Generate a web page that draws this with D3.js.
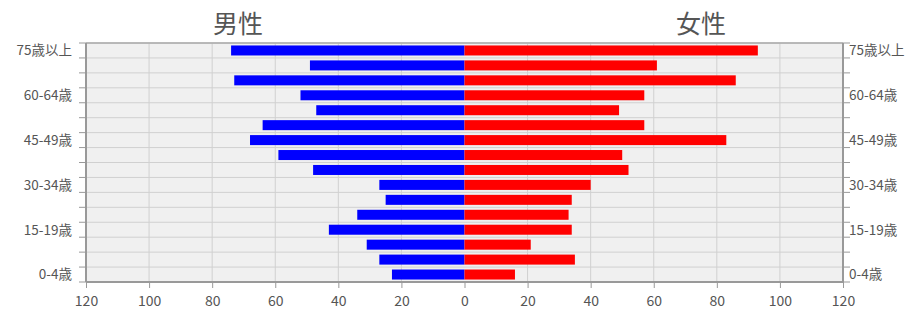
<!DOCTYPE html>
<html>
<head>
<meta charset="utf-8">
<script src="https://cdn.jsdelivr.net/npm/d3@7"></script>
<style>
	body { margin: 0; background: #fff; }
	text { font-family: "Noto Sans CJK JP", "Noto Sans", sans-serif; fill: #555; }
</style>
</head>
<body>
<svg width="922" height="310"></svg>
<script>
// age groups, bottom to top
var ageGroups = ['0-4歳', '5-9歳', '10-14歳', '15-19歳', '20-24歳', '25-29歳', '30-34歳', '35-39歳',
	'40-44歳', '45-49歳', '50-54歳', '55-59歳', '60-64歳', '65-69歳', '70-74歳', '75歳以上'];
var labeledGroups = ['0-4歳', '15-19歳', '30-34歳', '45-49歳', '60-64歳', '75歳以上'];
var maleValues = [23, 27, 31, 43, 34, 25, 27, 48, 59, 68, 64, 47, 52, 73, 49, 74];
var femaleValues = [16, 35, 21, 34, 33, 34, 40, 52, 50, 83, 57, 49, 57, 86, 61, 93];
var xTicks = [0, 20, 40, 60, 80, 100, 120];

var svg = d3.select('svg');
// plot area (note: "top" is a reserved global in browsers)
var pLeft = 86, pRight = 843, pTop = 43, pBottom = 282;
var mid = (pLeft + pRight) / 2;

var xMale = d3.scaleLinear().domain([0, 120]).range([mid, pLeft]);
var xFemale = d3.scaleLinear().domain([0, 120]).range([mid, pRight]);
var y = d3.scaleBand().domain(ageGroups.slice().reverse()).range([pTop, pBottom]).paddingInner(0.33).paddingOuter(0.165);
var yGrid = d3.scaleBand().domain(ageGroups.slice().reverse()).range([pTop, pBottom]);

// background
svg.append('rect')
	.attr('x', pLeft).attr('y', pTop)
	.attr('width', pRight - pLeft).attr('height', pBottom - pTop)
	.attr('fill', '#f0f0f0');

// horizontal gridlines at row boundaries
var bounds = ageGroups.map(function (a) { return yGrid(a); }).concat([pBottom]);
svg.append('g').selectAll('line')
	.data(bounds)
	.enter().append('line')
	.attr('x1', pLeft).attr('x2', pRight)
	.attr('y1', function (d) { return d; }).attr('y2', function (d) { return d; })
	.attr('stroke', '#d0d0d0');

// vertical gridlines
[xMale, xFemale].forEach(function (sc) {
	svg.append('g').selectAll('line')
		.data(xTicks.slice(1, -1))
		.enter().append('line')
		.attr('x1', function (d) { return sc(d); }).attr('x2', function (d) { return sc(d); })
		.attr('y1', pTop).attr('y2', pBottom)
		.attr('stroke', '#d0d0d0');
});

// bars
svg.append('g').selectAll('rect')
	.data(maleValues)
	.enter().append('rect')
	.attr('x', function (d) { return xMale(d); })
	.attr('y', function (d, i) { return y(ageGroups[i]); })
	.attr('width', function (d) { return mid - xMale(d); })
	.attr('height', y.bandwidth())
	.attr('fill', '#0000ff');
svg.append('g').selectAll('rect')
	.data(femaleValues)
	.enter().append('rect')
	.attr('x', mid)
	.attr('y', function (d, i) { return y(ageGroups[i]); })
	.attr('width', function (d) { return xFemale(d) - mid; })
	.attr('height', y.bandwidth())
	.attr('fill', '#ff0000');

// frame
svg.append('line').attr('x1', pLeft).attr('x2', pRight).attr('y1', pTop).attr('y2', pTop)
	.attr('stroke', '#aaa').attr('stroke-width', 1.5);
svg.append('line').attr('x1', pLeft).attr('x2', pRight).attr('y1', pBottom).attr('y2', pBottom)
	.attr('stroke', '#999').attr('stroke-width', 2);
svg.append('line').attr('x1', pLeft).attr('x2', pLeft).attr('y1', pTop).attr('y2', pBottom)
	.attr('stroke', '#999').attr('stroke-width', 2);
svg.append('line').attr('x1', pRight).attr('x2', pRight).attr('y1', pTop).attr('y2', pBottom)
	.attr('stroke', '#999').attr('stroke-width', 2);

// side ticks at row boundaries
[[pLeft, -7], [pRight, 7]].forEach(function (s) {
	svg.append('g').selectAll('line')
		.data(bounds)
		.enter().append('line')
		.attr('x1', s[0]).attr('x2', s[0] + s[1])
		.attr('y1', function (d) { return d; }).attr('y2', function (d) { return d; })
		.attr('stroke', '#999');
});

// age labels
var yLabel = function (d) { return y(d) + y.bandwidth() / 2; };
svg.append('g').selectAll('text')
	.data(labeledGroups)
	.enter().append('text')
	.attr('x', pLeft - 14).attr('y', yLabel)
	.attr('dy', '0.36em')
	.attr('text-anchor', 'end')
	.attr('font-size', 13.5)
	.text(function (d) { return d; });
svg.append('g').selectAll('text')
	.data(labeledGroups)
	.enter().append('text')
	.attr('x', pRight + 6).attr('y', yLabel)
	.attr('dy', '0.36em')
	.attr('font-size', 13.5)
	.text(function (d) { return d; });

// bottom axes
var axisMale = d3.axisBottom(xMale).tickValues(xTicks).tickSize(6).tickPadding(8);
var axisFemale = d3.axisBottom(xFemale).tickValues(xTicks.slice(1)).tickSize(6).tickPadding(8);
[axisMale, axisFemale].forEach(function (ax) {
	var g = svg.append('g').attr('transform', 'translate(0,' + pBottom + ')').call(ax);
	g.select('.domain').remove();
	g.selectAll('line').attr('stroke', '#999');
	g.selectAll('text').attr('font-size', 14).attr('fill', '#555')
		.style('font-family', '"Noto Sans CJK JP", "Noto Sans", sans-serif');
});

// titles
svg.append('text').attr('x', 238).attr('y', 33).attr('text-anchor', 'middle')
	.attr('font-size', 25).text('男性');
svg.append('text').attr('x', 701).attr('y', 33).attr('text-anchor', 'middle')
	.attr('font-size', 25).text('女性');
</script>
</body>
</html>
